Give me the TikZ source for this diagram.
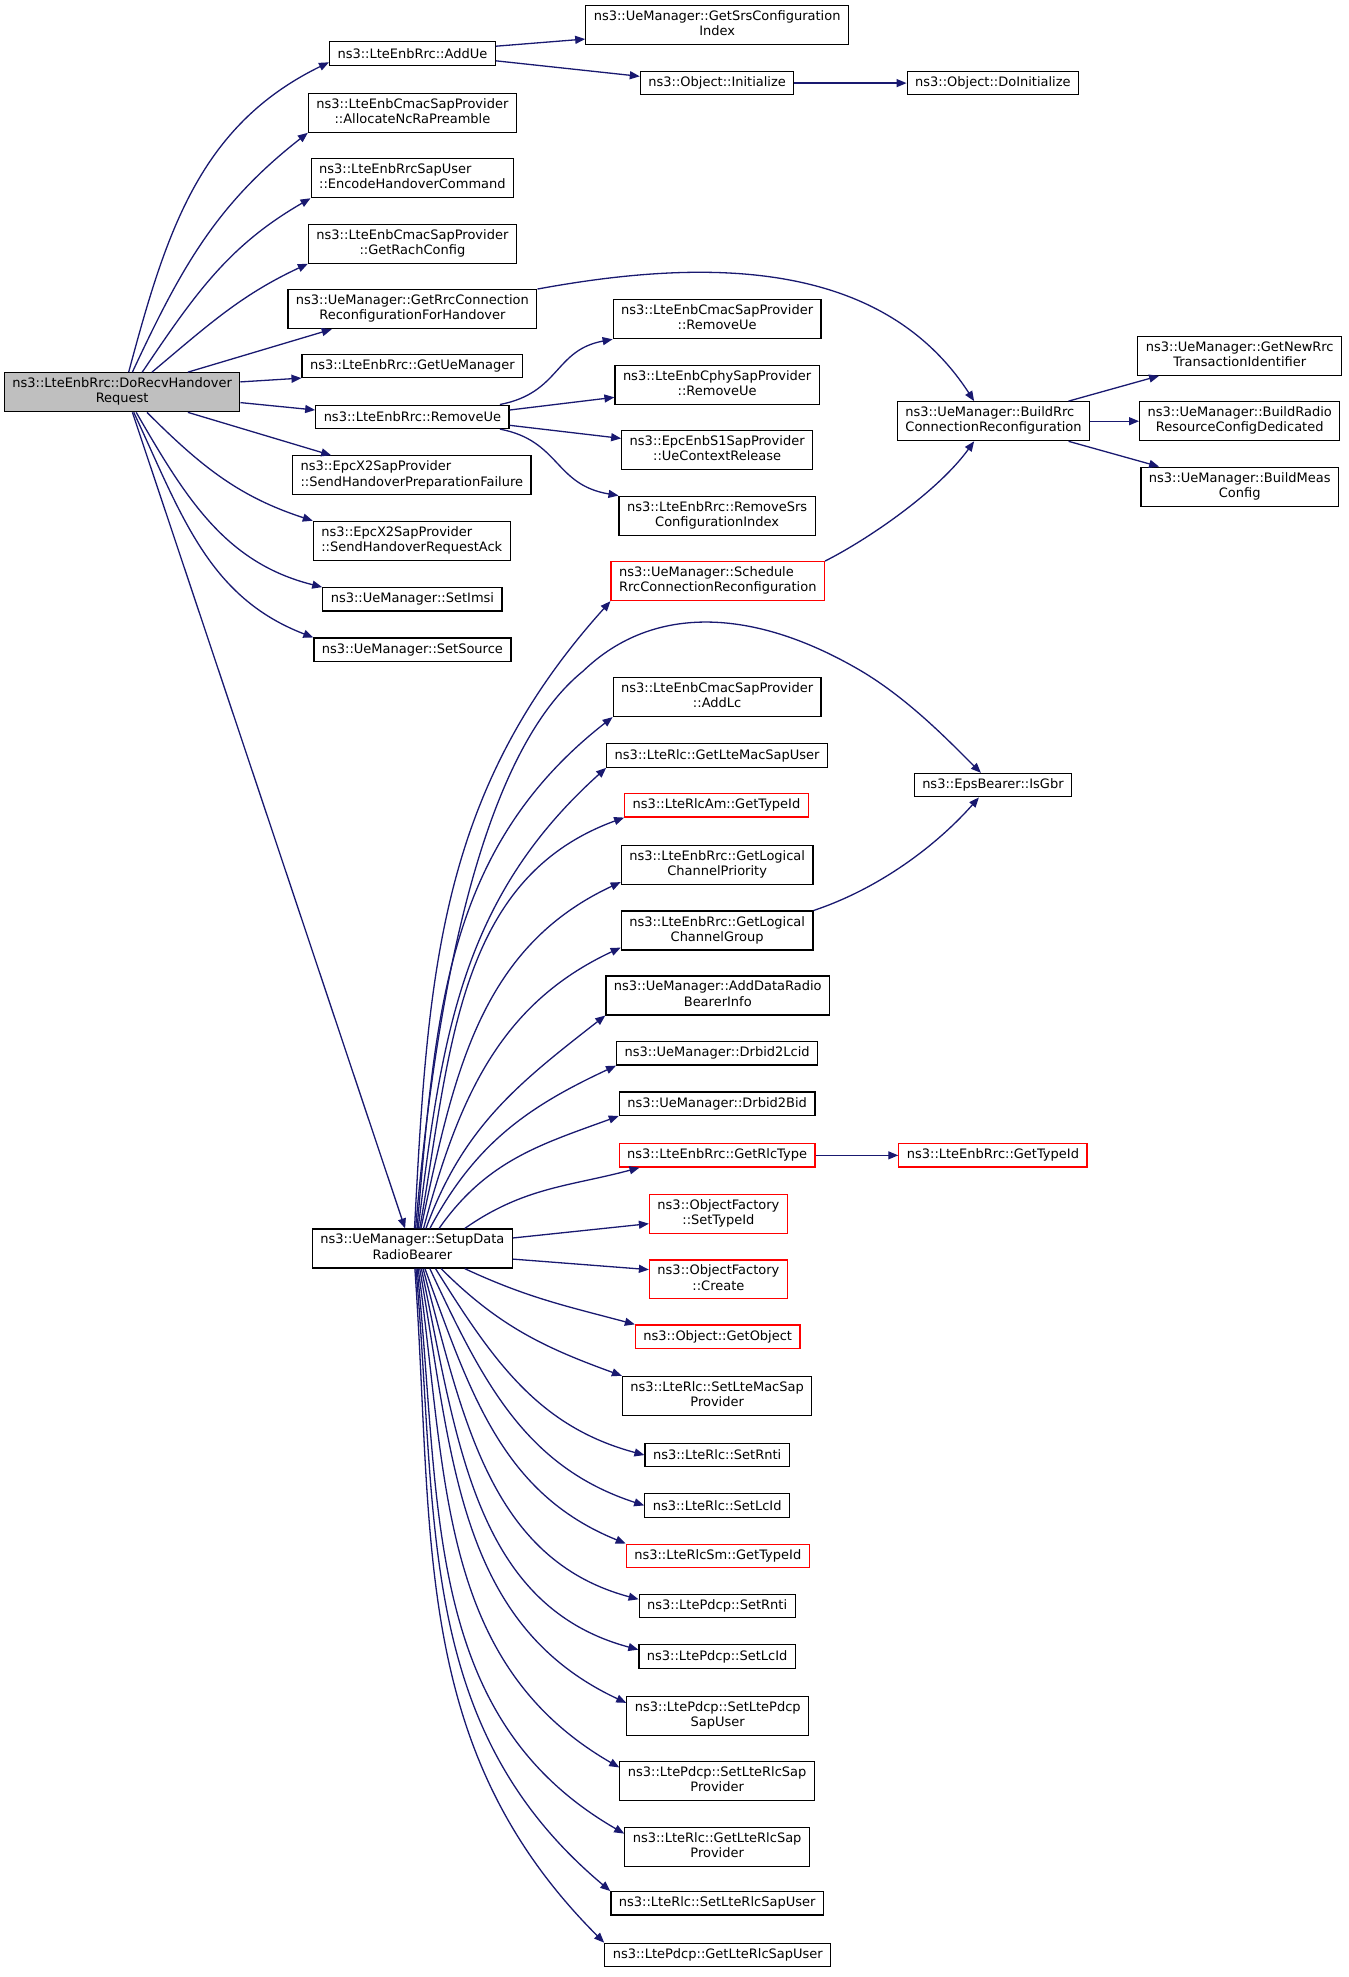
\documentclass[tikz,border=0pt]{standalone}
\usepackage{fontspec}
\setmainfont{DejaVu Sans}
\usetikzlibrary{arrows.meta}
\definecolor{callblue}{HTML}{191970}
\definecolor{rootgray}{HTML}{BFBFBF}
\newcommand{\dxfont}{\fontsize{6.5}{7.6}\selectfont}
\newcommand{\twol}[2]{\begin{tabular}{@{}l@{}}#1\\\multicolumn{1}{@{}c@{}}{#2}\end{tabular}}

\begin{document}
\begin{tikzpicture}[x=0.6298pt,y=0.6298pt,
  fn/.style={draw=black,line width=0.6pt,fill=white,inner xsep=4pt,inner ysep=0pt,minimum height=11.7pt,font=\dxfont},
  fn2/.style={fn,minimum height=19.5pt},
  redfn/.style={fn,draw=red},
  redfn2/.style={fn2,draw=red},
  rootfn/.style={fn2,fill=rootgray},
  call/.style={draw=callblue,line width=0.65pt,-{Triangle[length=5pt,width=4pt]}}]
\useasboundingbox (0,0) rectangle (1071,-1570);
% caller
\node[rootfn] (root) at (97,-311.5) {\twol{ns3::LteEnbRrc::DoRecvHandover}{Request}};
% direct callees
\node[fn] (addue) at (327.5,-42.5) {ns3::LteEnbRrc::AddUe};
\node[fn2] (allocnc) at (327.5,-89.5) {\twol{ns3::LteEnbCmacSapProvider}{::AllocateNcRaPreamble}};
\node[fn2] (encodeho) at (327.5,-141.5) {\twol{ns3::LteEnbRrcSapUser}{::EncodeHandoverCommand}};
\node[fn2] (rachcfg) at (327.5,-193.5) {\twol{ns3::LteEnbCmacSapProvider}{::GetRachConfig}};
\node[fn2] (getrrcho) at (327.5,-245.5) {\twol{ns3::UeManager::GetRrcConnection}{ReconfigurationForHandover}};
\node[fn] (getuemgr) at (327.5,-290.5) {ns3::LteEnbRrc::GetUeManager};
\node[fn] (removeue) at (327.5,-331) {ns3::LteEnbRrc::RemoveUe};
\node[fn2] (hoprepfail) at (327,-377.5) {\twol{ns3::EpcX2SapProvider}{::SendHandoverPreparationFailure}};
\node[fn2] (horeqack) at (327,-429.5) {\twol{ns3::EpcX2SapProvider}{::SendHandoverRequestAck}};
\node[fn] (setimsi) at (327.5,-476) {ns3::UeManager::SetImsi};
\node[fn] (setsource) at (327.5,-516) {ns3::UeManager::SetSource};
\node[fn2] (setupdrb) at (327.5,-991.5) {\twol{ns3::UeManager::SetupData}{RadioBearer}};
% third column
\node[fn2] (getsrs) at (569.5,-20) {\twol{ns3::UeManager::GetSrsConfiguration}{Index}};
\node[fn] (objinit) at (569.5,-66) {ns3::Object::Initialize};
\node[fn2] (cmacrmue) at (569.5,-253.5) {\twol{ns3::LteEnbCmacSapProvider}{::RemoveUe}};
\node[fn2] (cphyrmue) at (569.5,-305.5) {\twol{ns3::LteEnbCphySapProvider}{::RemoveUe}};
\node[fn2] (uectxrel) at (569.5,-357.5) {\twol{ns3::EpcEnbS1SapProvider}{::UeContextRelease}};
\node[fn2] (rmsrs) at (569.5,-409.5) {\twol{ns3::LteEnbRrc::RemoveSrs}{ConfigurationIndex}};
\node[redfn2] (schedrrc) at (570,-461.5) {\twol{ns3::UeManager::Schedule}{RrcConnectionReconfiguration}};
\node[fn2] (addlc) at (569.5,-553.5) {\twol{ns3::LteEnbCmacSapProvider}{::AddLc}};
\node[fn] (getmacsap) at (569.5,-600) {ns3::LteRlc::GetLteMacSapUser};
\node[redfn] (rlcamtid) at (569,-639.5) {ns3::LteRlcAm::GetTypeId};
\node[fn2] (lcprio) at (569.5,-687) {\twol{ns3::LteEnbRrc::GetLogical}{ChannelPriority}};
\node[fn2] (lcgroup) at (569.5,-739) {\twol{ns3::LteEnbRrc::GetLogical}{ChannelGroup}};
\node[fn2] (adddrb) at (570,-790.5) {\twol{ns3::UeManager::AddDataRadio}{BearerInfo}};
\node[fn] (drbid2lcid) at (569.5,-836.5) {ns3::UeManager::Drbid2Lcid};
\node[fn] (drbid2bid) at (569.5,-876.5) {ns3::UeManager::Drbid2Bid};
\node[redfn] (getrlctype) at (569.5,-917.5) {ns3::LteEnbRrc::GetRlcType};
\node[redfn2] (ofsettid) at (570.5,-964) {\twol{ns3::ObjectFactory}{::SetTypeId}};
\node[redfn2] (ofcreate) at (570.5,-1016) {\twol{ns3::ObjectFactory}{::Create}};
\node[redfn] (getobject) at (570,-1061.5) {ns3::Object::GetObject};
\node[fn2] (setmacsap) at (569.5,-1108.5) {\twol{ns3::LteRlc::SetLteMacSap}{Provider}};
\node[fn] (rlcsetrnti) at (569.5,-1155.5) {ns3::LteRlc::SetRnti};
\node[fn] (rlcsetlcid) at (569.5,-1195.5) {ns3::LteRlc::SetLcId};
\node[redfn] (rlcsmtid) at (570,-1235.5) {ns3::LteRlcSm::GetTypeId};
\node[fn] (pdcpsetrnti) at (569.5,-1275.5) {ns3::LtePdcp::SetRnti};
\node[fn] (pdcpsetlcid) at (569.5,-1315.5) {ns3::LtePdcp::SetLcId};
\node[fn2] (setpdcpsap) at (570,-1362.5) {\twol{ns3::LtePdcp::SetLtePdcp}{SapUser}};
\node[fn2] (setrlcsapprov) at (569.5,-1414.5) {\twol{ns3::LtePdcp::SetLteRlcSap}{Provider}};
\node[fn2] (getrlcsapprov) at (569.5,-1466.5) {\twol{ns3::LteRlc::GetLteRlcSap}{Provider}};
\node[fn] (setrlcsapuser) at (569.5,-1511.5) {ns3::LteRlc::SetLteRlcSapUser};
\node[fn] (getrlcsapuser) at (570,-1552.5) {ns3::LtePdcp::GetLteRlcSapUser};
% fourth and fifth column
\node[fn] (objdoinit) at (788.5,-66) {ns3::Object::DoInitialize};
\node[fn2] (buildrrc) at (789,-334.5) {\twol{ns3::UeManager::BuildRrc}{ConnectionReconfiguration}};
\node[fn] (isgbr) at (788.5,-623.5) {ns3::EpsBearer::IsGbr};
\node[redfn] (enbtid) at (788.5,-917.5) {ns3::LteEnbRrc::GetTypeId};
\node[fn2] (newrrc) at (984.5,-282.5) {\twol{ns3::UeManager::GetNewRrc}{TransactionIdentifier}};
\node[fn2] (buildradio) at (984.5,-334.5) {\twol{ns3::UeManager::BuildRadio}{ResourceConfigDedicated}};
\node[fn2] (buildmeas) at (984.5,-386.5) {\twol{ns3::UeManager::BuildMeas}{Config}};

% calls from DoRecvHandoverRequest
\draw[call] (root.72) to[out=75,in=206] (addue.186);
\draw[call] (root.63) to[out=65,in=218] (allocnc.south west);
\draw[call] (root.45) to[out=56,in=210] (encodeho.south west);
\draw[call] (root.34) to[out=40,in=205] (rachcfg.south west);
\draw[call] (root.17) -- (getrrcho.194);
\draw[call] (root.5) -- (getuemgr.south west);
\draw[call] (root.-5) -- (removeue.176);
\draw[call] (root.-17) -- (hoprepfail.166);
\draw[call] (root.-39) to[out=-45,in=162] (horeqack.north west);
\draw[call] (root.-55) to[out=-60,in=166] (setimsi.north west);
\draw[call] (root.-60) to[out=-65,in=159] (setsource.north west);
\draw[call] (root.-63) -- (setupdrb.110);
% second level
\draw[call] (addue.5) -- (getsrs.186);
\draw[call] (addue.-5) -- (objinit.175);
\draw[call] (objinit) -- (objdoinit);
\draw[call] (getrrcho.north east) .. controls (560,-205) and (700,-205) .. (buildrrc.134);
\draw[call] (removeue.8) .. controls (445,-312) and (440,-278) .. (cmacrmue.south west);
\draw[call] (removeue.4) -- (cphyrmue.187);
\draw[call] (removeue.-5) -- (uectxrel.173);
\draw[call] (removeue.-8) .. controls (445,-350) and (440,-385) .. (rmsrs.north west);
\draw[call] (buildrrc.15) -- (newrrc.194);
\draw[call] (buildrrc) -- (buildradio);
\draw[call] (buildrrc.-15) -- (buildmeas.166);
\draw[call] (schedrrc.north east) .. controls (690,-428) and (745,-390) .. (buildrrc.-134);
\draw[call] (lcgroup.north east) .. controls (700,-705) and (745,-670) .. ([xshift=-7pt]isgbr.south);
\draw[call] (getrlctype) -- (enbtid);
% calls from SetupDataRadioBearer, upwards
\draw[call] (setupdrb.84) to[out=87,in=228] (schedrrc.south west);
\draw[call] (setupdrb.81) .. controls (345,-800) and (380,-600) .. (463,-533)
  .. controls (520,-478) and (600,-485) .. (679,-530)
  .. controls (720,-553) and (755,-590) .. ([xshift=-6pt]isgbr.north);
\draw[call] (setupdrb.77) to[out=85,in=218] (addlc.south west);
\draw[call] (setupdrb.74) to[out=83,in=222] (getmacsap.south west);
\draw[call] (setupdrb.70) to[out=80,in=200] (rlcamtid.south west);
\draw[call] (setupdrb.67) to[out=78,in=205] (lcprio.190);
\draw[call] (setupdrb.61) to[out=75,in=205] (lcgroup.190);
\draw[call] (setupdrb.56) to[out=70,in=218] (adddrb.south west);
\draw[call] (setupdrb.49) to[out=62,in=205] (drbid2lcid.south west);
\draw[call] (setupdrb.37) to[out=55,in=200] (drbid2bid.south west);
\draw[call] (setupdrb.21) to[out=35,in=195] (getrlctype.189);
% calls from SetupDataRadioBearer, sideways and downwards
\draw[call] (setupdrb.6) -- (ofsettid.188);
\draw[call] (setupdrb.-6) -- (ofcreate.172);
\draw[call] (setupdrb.-21) to[out=-25,in=165] (getobject.north west);
\draw[call] (setupdrb.-35) to[out=-45,in=160] (setmacsap.north west);
\draw[call] (setupdrb.-41) to[out=-58,in=165] (rlcsetrnti.west);
\draw[call] (setupdrb.-49) to[out=-65,in=162] (rlcsetlcid.west);
\draw[call] (setupdrb.-58) to[out=-70,in=158] (rlcsmtid.north west);
\draw[call] (setupdrb.-62) to[out=-75,in=165] (pdcpsetrnti.175);
\draw[call] (setupdrb.-66) to[out=-78,in=165] (pdcpsetlcid.175);
\draw[call] (setupdrb.-70) to[out=-80,in=155] (setpdcpsap.172);
\draw[call] (setupdrb.-74) to[out=-82,in=150] (setrlcsapprov.172);
\draw[call] (setupdrb.-77) to[out=-84,in=150] (getrlcsapprov.172);
\draw[call] (setupdrb.-80) to[out=-85,in=140] (setrlcsapuser.north west);
\draw[call] (setupdrb.-83) to[out=-86,in=135] (getrlcsapuser.north west);
\end{tikzpicture}
\end{document}
